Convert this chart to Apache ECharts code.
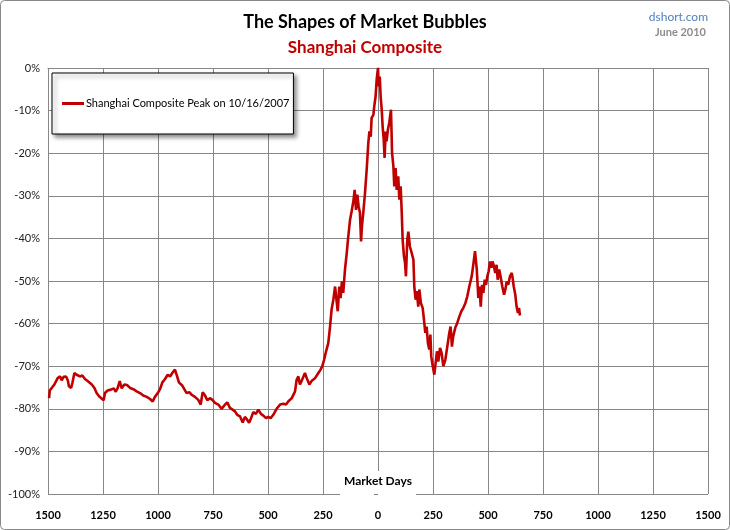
<!DOCTYPE html>
<html>
<head>
<meta charset="utf-8">
<script src="https://cdn.jsdelivr.net/npm/echarts@6/dist/echarts.min.js"></script>
<style>
html,body{margin:0;padding:0;background:#fff;}
#c{width:730px;height:530px;}
</style>
</head>
<body>
<div id="c"></div>
<script>
// Market days relative to the 10/16/2007 peak (negative = before peak)
var days = [-1495,-1492,-1483,-1471,-1456,-1445,-1438,-1429,-1418,-1410,-1405,-1395,-1389,-1380,-1370,-1355,-1344,-1332,-1317,-1301,-1289,-1279,-1267,-1247,-1241,-1229,-1214,-1201,-1192,-1183,-1174,-1165,-1153,-1141,-1127,-1112,-1097,-1082,-1067,-1051,-1036,-1024,-1014,-1001,-991,-980,-968,-956,-945,-935,-923,-914,-905,-889,-882,-870,-858,-847,-832,-817,-806,-797,-786,-776,-764,-753,-741,-726,-711,-695,-685,-673,-661,-650,-640,-627,-615,-605,-597,-586,-577,-567,-555,-544,-532,-521,-509,-499,-488,-476,-461,-445,-430,-418,-408,-392,-377,-370,-362,-355,-345,-332,-324,-312,-302,-286,-271,-261,-253,-245,-236,-226,-218,-211,-203,-195,-188,-183,-176,-170,-164,-158,-150,-142,-135,-127,-120,-112,-106,-100,-94,-88,-82,-77,-73,-67,-59,-51,-44,-39,-33,-29,-21,-17,-11,-6,0,3,8,12,17,21,26,30,35,39,45,51,59,64,70,74,80,85,92,97,103,108,112,118,123,127,133,138,145,153,161,165,171,176,183,188,195,203,209,215,221,227,233,238,242,249,256,262,268,274,282,289,297,306,315,324,330,336,342,351,360,370,379,388,397,406,415,426,433,441,449,456,461,467,473,479,485,491,497,503,509,515,521,527,533,539,544,551,557,565,573,579,585,592,600,608,612,617,624,630,636,641,645];
// Percent below the peak
var pct = [-77.5,-75.7,-75.4,-74.3,-72.8,-72.4,-73.3,-72.5,-72.4,-73.3,-74.7,-75.1,-73.9,-71.6,-72.0,-72.4,-72.2,-73.0,-73.6,-74.3,-75.1,-76.3,-77.1,-78.0,-76.3,-75.7,-75.5,-75.2,-76.0,-75.1,-73.5,-75.2,-74.3,-74.4,-75.1,-75.4,-75.9,-76.3,-76.9,-77.2,-77.7,-78.3,-77.2,-76.3,-75.4,-73.8,-73.0,-72.0,-72.4,-71.6,-70.8,-72.2,-73.8,-74.6,-74.7,-76.3,-76.1,-76.7,-77.2,-77.9,-79.0,-76.1,-76.9,-78.0,-77.5,-77.9,-78.6,-79.0,-80.0,-79.0,-78.5,-79.8,-80.2,-80.6,-81.4,-81.8,-83.2,-81.9,-82.4,-83.3,-82.2,-80.8,-81.2,-80.2,-81.2,-81.6,-82.2,-81.9,-82.2,-81.4,-80.0,-79.0,-78.8,-79.0,-78.3,-77.5,-75.9,-73.2,-72.4,-74.3,-73.2,-71.6,-72.8,-74.3,-73.5,-72.8,-71.6,-70.8,-70.0,-68.5,-66.5,-64.6,-60.7,-56.7,-54.4,-51.3,-54.8,-57.1,-51.3,-54.0,-50.1,-52.8,-47.3,-43.4,-39.5,-35.6,-33.7,-31.3,-28.6,-33.3,-29.7,-32.5,-34.0,-40.7,-37.2,-34.0,-29.3,-23.5,-17.6,-14.9,-16.1,-11.7,-11.0,-9.0,-6.7,-2.7,0,-4.3,-2.0,-6.7,-9.8,-13.7,-16.8,-21.1,-14.9,-17.2,-14.5,-12.9,-9.8,-20.0,-23.1,-27.8,-23.5,-28.6,-25.4,-30.9,-27.8,-34.0,-40.3,-44.2,-45.8,-48.9,-40.3,-38.4,-41.9,-43.4,-45.0,-51.3,-54.4,-52.4,-56.0,-52.0,-55.2,-56.3,-59.1,-62.2,-60.7,-64.6,-66.1,-62.6,-67.7,-70.0,-72.0,-69.2,-66.5,-68.9,-65.7,-66.9,-70.0,-68.5,-65.4,-62.2,-60.7,-65.4,-63.0,-61.0,-59.9,-58.3,-57.1,-56.3,-55.2,-53.6,-51.3,-48.9,-46.2,-43.0,-47.3,-54.0,-51.3,-56.0,-50.9,-52.8,-49.7,-50.9,-48.9,-47.7,-45.4,-46.9,-45.4,-46.6,-48.1,-46.2,-49.7,-47.3,-48.9,-51.3,-53.2,-52.0,-50.1,-50.9,-48.9,-48.1,-49.3,-51.3,-53.2,-56.0,-57.5,-56.3,-58.1];
var seriesName = 'Shanghai Composite Peak on 10/16/2007';
var titleText = 'The Shapes of Market Bubbles';
var subtitleText = 'Shanghai Composite';
var sourceText = 'dshort.com';
var dateText = 'June 2010';
var xName = 'Market Days';

var data = days.map(function (d, i) { return [d, pct[i]]; });
var FONT = 'Lato, "Open Sans", sans-serif';
var GRID = '#878787';

var chart = echarts.init(document.getElementById('c'), null, {renderer: 'canvas'});
chart.setOption({
  animation: false,
  backgroundColor: '#fff',
  textStyle: {fontFamily: FONT},
  title: [
    {text: titleText, left: 'center', top: 8, textStyle: {fontFamily: FONT, fontSize: 18, fontWeight: 'bold', color: '#000'}},
    {text: subtitleText, left: 'center', top: 34, textStyle: {fontFamily: FONT, fontSize: 17, fontWeight: 'bold', color: '#C00000'}},
    {text: sourceText, right: 17, top: 6, textStyle: {fontFamily: FONT, fontSize: 12, fontWeight: 'normal', color: '#4F81BD'}},
    {text: dateText, right: 19, top: 22, textStyle: {fontFamily: FONT, fontSize: 11, fontWeight: 'bold', color: '#8C8C8C'}}
  ],
  graphic: [
    {type: 'rect', silent: true, z: -10, shape: {x: 0.5, y: 0.5, width: 729, height: 529, r: 4}, style: {fill: 'none', stroke: '#888', lineWidth: 1}}
  ],
  legend: {
    left: 52, top: 73,
    orient: 'vertical',
    backgroundColor: '#fff',
    borderColor: '#000',
    borderWidth: 1,
    padding: [25, 4, 25, 10],
    shadowBlur: 4, shadowOffsetX: 3, shadowOffsetY: 3, shadowColor: 'rgba(0,0,0,0.45)',
    icon: 'rect', itemWidth: 22, itemHeight: 3, itemGap: 0,
    textStyle: {fontFamily: FONT, fontSize: 11, color: '#000', padding: [0, 0, 0, -3]},
    data: [seriesName]
  },
  grid: {left: 48, right: 22, top: 68, bottom: 36, outerBoundsMode: 'none', containLabel: false},
  xAxis: {
    type: 'value', min: -1500, max: 1500, interval: 250,
    name: xName, nameLocation: 'middle', nameGap: -23, nameMoveOverlap: false,
    nameTextStyle: {fontFamily: FONT, fontSize: 12, fontWeight: 'bold', color: '#000', backgroundColor: '#fff', padding: [4, 4, 8, 4]},
    axisLine: {show: true, lineStyle: {color: GRID, width: 1}},
    axisTick: {show: false},
    axisLabel: {formatter: function (v) { return String(Math.abs(v)); }, fontFamily: FONT, fontSize: 11, fontWeight: 'bold', color: '#000', margin: 16},
    splitLine: {show: true, lineStyle: {color: GRID, width: 1}}
  },
  yAxis: {
    type: 'value', min: -100, max: 0, interval: 10,
    axisLine: {show: true, lineStyle: {color: GRID, width: 1}},
    axisTick: {show: true, length: 4, lineStyle: {color: GRID}},
    axisLabel: {formatter: function (v) { return v + '%'; }, fontFamily: FONT, fontSize: 11, color: '#222', margin: 8},
    splitLine: {show: true, lineStyle: {color: GRID, width: 1}}
  },
  series: [{
    name: seriesName, type: 'line', data: data, showSymbol: false, symbol: 'none',
    lineStyle: {color: '#C00000', width: 2.6}, itemStyle: {color: '#C00000'}, z: 5
  }]
});
</script>
</body>
</html>
